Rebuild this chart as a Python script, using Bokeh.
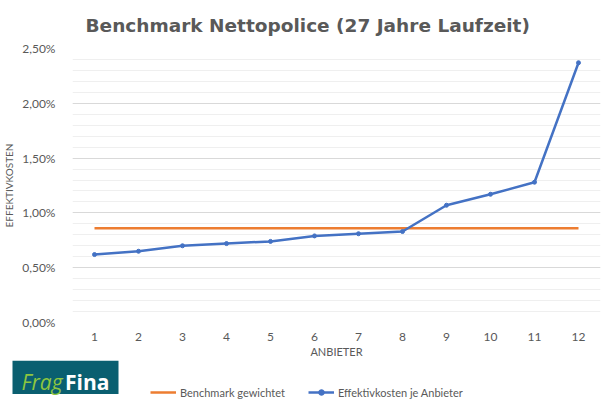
from bokeh.plotting import figure
from bokeh.layouts import column
from bokeh.core.properties import value
from bokeh.models import (Range1d, FixedTicker, CustomJSTickFormatter, Legend, LegendItem, Title)
from bokeh.embed import file_html
from bokeh.resources import INLINE

anbieter = [1, 2, 3, 4, 5, 6, 7, 8, 9, 10, 11, 12]
effektivkosten = [0.62, 0.65, 0.70, 0.72, 0.74, 0.79, 0.81, 0.83, 1.07, 1.17, 1.28, 2.37]
benchmark_wert = 0.86
benchmark = [benchmark_wert] * len(anbieter)
y_ticks = [0.0, 0.5, 1.0, 1.5, 2.0, 2.5]
serien = ["Benchmark gewichtet", "Effektivkosten je Anbieter"]

TXT = "#595959"
FONT = "Lato"
ORANGE = "#ED7D31"
BLUE = "#4472C4"

p = figure(width=611, height=360, output_backend="svg", toolbar_location=None,
           x_range=Range1d(0.5, 12.5), y_range=Range1d(0, 2.5),
           min_border_left=70, min_border_right=11, min_border_top=48, min_border_bottom=36)
p.outline_line_color = None
p.background_fill_color = "white"
p.border_fill_color = "white"

title = Title(text="Benchmark Nettopolice (27 Jahre Laufzeit)", align="left",
              text_font="DejaVu Sans", text_font_size="18.5px", text_font_style="bold",
              text_color=TXT, offset=13, standoff=25)
p.add_layout(title, "above")

# axes
p.xaxis.ticker = FixedTicker(ticks=anbieter)
p.yaxis.ticker = FixedTicker(ticks=y_ticks, minor_ticks=[i / 10 for i in range(26)])
p.yaxis.formatter = CustomJSTickFormatter(code="return tick.toFixed(2).replace('.', ',') + '%';")
for ax in (p.xaxis[0], p.yaxis[0]):
    ax.axis_line_color = None
    ax.major_tick_line_color = None
    ax.minor_tick_line_color = None
    ax.major_label_text_color = TXT
    ax.major_label_text_font = FONT
    ax.major_label_text_font_size = "12px"
    ax.axis_label_text_color = TXT
    ax.axis_label_text_font = FONT
    ax.axis_label_text_font_style = "normal"
p.xaxis.axis_label_text_font_size = "11px"
p.yaxis.axis_label_text_font_size = "10px"
p.yaxis.major_label_standoff = 11
p.xaxis.major_label_standoff = 4
p.xaxis.axis_label = "ANBIETER"
p.yaxis.axis_label = "EFFEKTIVKOSTEN"
p.xaxis.axis_label_standoff = 1
p.yaxis.axis_label_standoff = 4

p.xgrid.grid_line_color = None
p.ygrid.grid_line_color = "#d9d9d9"
p.ygrid.minor_grid_line_color = "#efefef"

p.line(anbieter, benchmark, line_color=ORANGE, line_width=2.5)
p.line(anbieter, effektivkosten, line_color=BLUE, line_width=2.5)
p.scatter(anbieter, effektivkosten, size=4, marker="circle",
          fill_color=BLUE, line_color=BLUE)

# bottom strip: logo + legend
b = figure(width=611, height=51, output_backend="svg", toolbar_location=None,
           x_axis_type=None, y_axis_type=None,
           x_range=Range1d(0, 611), y_range=Range1d(51, 0),
           min_border_left=0, min_border_right=0, min_border_top=0, min_border_bottom=0)
if "frame_align" in b.properties():
    b.frame_align = False
b.grid.visible = False
b.outline_line_color = None
b.background_fill_color = "white"
b.border_fill_color = "white"

b.quad(left=[12], right=[118], top=[0], bottom=[33.5], fill_color="#0a5f70", line_color=None)
b.text(x=[21], y=[21.5], text=["Frag"], text_font_size="21px", text_font_style="italic",
       text_color="#8dc63f", text_baseline="alphabetic", text_font=value("Open Sans"))
b.text(x=[64.5], y=[21.5], text=["Fina"], text_font_size="21px", text_font_style="bold",
       text_color="white", text_baseline="alphabetic", text_font=value("Open Sans"))

# legend entries (renderers on a hidden range so only the legend glyphs show)
b.extra_y_ranges = {"verdeckt": Range1d(1000, 2000)}
lg_bench = b.line(anbieter, benchmark, line_color=ORANGE, line_width=2.5, y_range_name="verdeckt")
lg_line = b.line(anbieter, effektivkosten, line_color=BLUE, line_width=2.5, y_range_name="verdeckt")
lg_pts = b.scatter(anbieter, effektivkosten, size=4, marker="circle", fill_color=BLUE,
                   line_color=BLUE, y_range_name="verdeckt")

legend = Legend(items=[LegendItem(label=serien[0], renderers=[lg_bench]),
                       LegendItem(label=serien[1], renderers=[lg_line, lg_pts])],
                orientation="horizontal", location=(150, 12),
                label_text_font=FONT, label_text_font_size="11px", label_text_color=TXT,
                glyph_width=26, glyph_height=14, spacing=23, label_standoff=4,
                border_line_color=None, background_fill_alpha=0, margin=0, padding=0)
b.add_layout(legend)

layout = column(p, b, spacing=0)
open("out.html", "w").write(file_html(layout, INLINE))
